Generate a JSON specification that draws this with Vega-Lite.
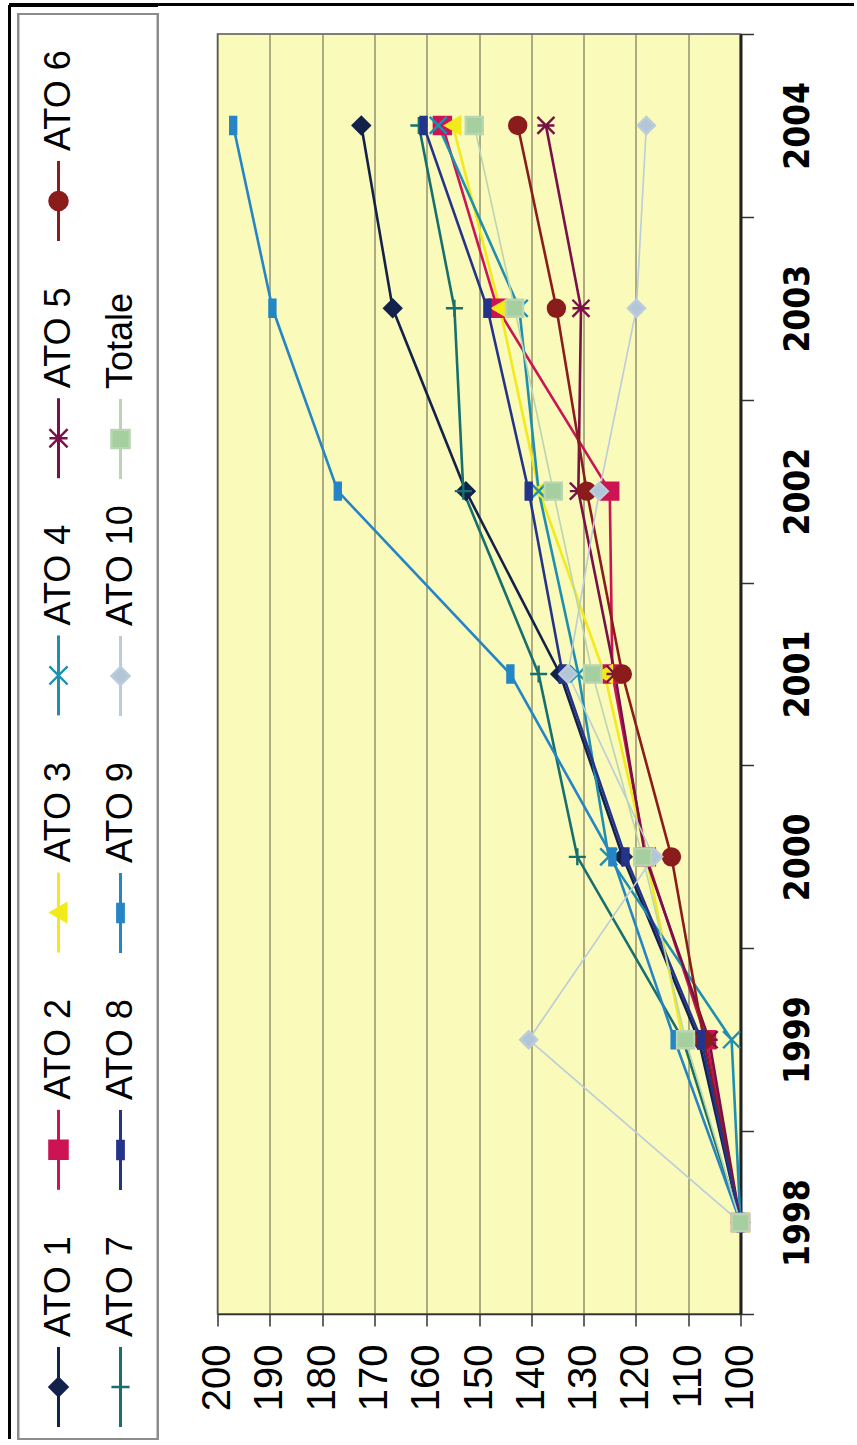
{
  "$schema": "https://vega.github.io/schema/vega-lite/v6.json",
  "padding": {"left": 7.5, "top": 2, "right": 0, "bottom": 0},
  "background": "white",
  "config": {"font": "Liberation Sans", "view": {"stroke": null}},
  "datasets": {
    "ato": [
      {"series": "ATO 1", "year": 1998, "value": 100}, {"series": "ATO 1", "year": 1999, "value": 108}, {"series": "ATO 1", "year": 2000, "value": 122.5}, {"series": "ATO 1", "year": 2001, "value": 134.5}, {"series": "ATO 1", "year": 2002, "value": 152.5}, {"series": "ATO 1", "year": 2003, "value": 166.5}, {"series": "ATO 1", "year": 2004, "value": 172.5},
      {"series": "ATO 2", "year": 1998, "value": 100}, {"series": "ATO 2", "year": 1999, "value": 106.5}, {"series": "ATO 2", "year": 2000, "value": 118}, {"series": "ATO 2", "year": 2001, "value": 124.5}, {"series": "ATO 2", "year": 2002, "value": 125}, {"series": "ATO 2", "year": 2003, "value": 146.5}, {"series": "ATO 2", "year": 2004, "value": 157},
      {"series": "ATO 3", "year": 1998, "value": 100}, {"series": "ATO 3", "year": 1999, "value": 111}, {"series": "ATO 3", "year": 2000, "value": 118}, {"series": "ATO 3", "year": 2001, "value": 126}, {"series": "ATO 3", "year": 2002, "value": 138.5}, {"series": "ATO 3", "year": 2003, "value": 146}, {"series": "ATO 3", "year": 2004, "value": 155},
      {"series": "ATO 4", "year": 1998, "value": 100}, {"series": "ATO 4", "year": 1999, "value": 101.7}, {"series": "ATO 4", "year": 2000, "value": 125.2}, {"series": "ATO 4", "year": 2001, "value": 131}, {"series": "ATO 4", "year": 2002, "value": 138.6}, {"series": "ATO 4", "year": 2003, "value": 142.3}, {"series": "ATO 4", "year": 2004, "value": 157.8},
      {"series": "ATO 5", "year": 1998, "value": 100}, {"series": "ATO 5", "year": 1999, "value": 106}, {"series": "ATO 5", "year": 2000, "value": 118.2}, {"series": "ATO 5", "year": 2001, "value": 124}, {"series": "ATO 5", "year": 2002, "value": 131}, {"series": "ATO 5", "year": 2003, "value": 130.5}, {"series": "ATO 5", "year": 2004, "value": 137.2},
      {"series": "ATO 6", "year": 1998, "value": 100}, {"series": "ATO 6", "year": 1999, "value": 107}, {"series": "ATO 6", "year": 2000, "value": 113.2}, {"series": "ATO 6", "year": 2001, "value": 122.6}, {"series": "ATO 6", "year": 2002, "value": 129.4}, {"series": "ATO 6", "year": 2003, "value": 135.2}, {"series": "ATO 6", "year": 2004, "value": 142.6},
      {"series": "ATO 7", "year": 1998, "value": 100}, {"series": "ATO 7", "year": 1999, "value": 111}, {"series": "ATO 7", "year": 2000, "value": 131.2}, {"series": "ATO 7", "year": 2001, "value": 138.6}, {"series": "ATO 7", "year": 2002, "value": 153}, {"series": "ATO 7", "year": 2003, "value": 154.7}, {"series": "ATO 7", "year": 2004, "value": 161.5},
      {"series": "ATO 8", "year": 1998, "value": 100}, {"series": "ATO 8", "year": 1999, "value": 107.5}, {"series": "ATO 8", "year": 2000, "value": 122}, {"series": "ATO 8", "year": 2001, "value": 134}, {"series": "ATO 8", "year": 2002, "value": 140.5}, {"series": "ATO 8", "year": 2003, "value": 148.4}, {"series": "ATO 8", "year": 2004, "value": 160.6},
      {"series": "ATO 9", "year": 1998, "value": 100}, {"series": "ATO 9", "year": 1999, "value": 112.6}, {"series": "ATO 9", "year": 2000, "value": 124.5}, {"series": "ATO 9", "year": 2001, "value": 144}, {"series": "ATO 9", "year": 2002, "value": 177}, {"series": "ATO 9", "year": 2003, "value": 189.5}, {"series": "ATO 9", "year": 2004, "value": 197},
      {"series": "ATO 10", "year": 1998, "value": 100}, {"series": "ATO 10", "year": 1999, "value": 140.5}, {"series": "ATO 10", "year": 2000, "value": 116.6}, {"series": "ATO 10", "year": 2001, "value": 133}, {"series": "ATO 10", "year": 2002, "value": 127}, {"series": "ATO 10", "year": 2003, "value": 119.9}, {"series": "ATO 10", "year": 2004, "value": 118},
      {"series": "Totale", "year": 1998, "value": 100}, {"series": "Totale", "year": 1999, "value": 110.5}, {"series": "Totale", "year": 2000, "value": 118.7}, {"series": "Totale", "year": 2001, "value": 128.3}, {"series": "Totale", "year": 2002, "value": 135.8}, {"series": "Totale", "year": 2003, "value": 143.2}, {"series": "Totale", "year": 2004, "value": 150.9}
    ]
  },
  "align": "none",
  "spacing": -6,
  "hconcat": [
    {
      "width": 139,
      "height": 1280,
      "data": {"name": "ato"},
      "transform": [{"filter": "datum.year == 1998"}],
      "resolve": {"scale": {"y": "independent"}},
      "layer": [
        {
          "mark": {"type": "rect", "fill": "white", "stroke": "#8c8c8c", "strokeWidth": 2},
          "encoding": {
            "x": {"datum": 0, "type": "quantitative", "scale": {"domain": [0, 139]}, "axis": null},
            "x2": {"datum": 139},
            "y": {"datum": 0, "type": "quantitative", "scale": {"domain": [0, 1425], "range": [-20, 1405]}, "axis": null},
            "y2": {"datum": 1425}
          }
        },
        {
          "mark": {"type": "rule", "color": "black", "strokeWidth": 3},
          "encoding": {
            "x": {"datum": -9, "type": "quantitative", "scale": {"domain": [0, 139]}, "axis": null},
            "x2": {"datum": 139},
            "y": {"datum": -9, "type": "quantitative", "scale": {"domain": [0, 1425], "range": [-20, 1405]}, "axis": null}
          }
        },
        {
          "mark": {"type": "rule", "color": "black", "strokeWidth": 3},
          "encoding": {
            "x": {"datum": -9, "type": "quantitative", "scale": {"domain": [0, 139]}, "axis": null},
            "y": {"datum": -9, "type": "quantitative", "scale": {"domain": [0, 1425], "range": [-20, 1405]}, "axis": null},
            "y2": {"datum": 1425}
          }
        },
        {
          "transform": [{"filter": {"field": "series", "oneOf": ["ATO 1", "ATO 2", "ATO 3", "ATO 4", "ATO 5", "ATO 6"]}}],
          "encoding": {
            "x": {"datum": 40, "type": "quantitative", "scale": {"domain": [0, 139]}, "axis": null},
            "y": {"field": "series", "type": "nominal", "scale": {"type": "point", "domain": ["ATO 6", "ATO 5", "ATO 4", "ATO 3", "ATO 2", "ATO 1"], "range": [167, 1353], "padding": 0}, "axis": null}
          },
          "layer": [
            {
              "mark": {"type": "point", "shape": "M0,-1L0,1", "size": 6400, "strokeWidth": 3, "filled": false, "opacity": 1},
              "encoding": {"stroke": {"field": "series", "type": "nominal", "scale": {"domain": ["ATO 1", "ATO 2", "ATO 3", "ATO 4", "ATO 5", "ATO 6", "ATO 7", "ATO 8", "ATO 9", "ATO 10", "Totale"], "range": ["#13224A", "#CC1455", "#F2EA1A", "#1E8FB0", "#7A1048", "#8A1C1C", "#17706E", "#24348A", "#2585C5", "#BBCCDA", "#B9D5B2"]}, "legend": null}}
            },
            {
              "mark": {"type": "point", "filled": true, "size": 330, "strokeWidth": 2.4, "opacity": 1},
              "encoding": {
                "shape": {"field": "series", "type": "nominal", "scale": {"domain": ["ATO 1", "ATO 2", "ATO 3", "ATO 4", "ATO 5", "ATO 6", "ATO 7", "ATO 8", "ATO 9", "ATO 10", "Totale"], "range": ["diamond", "square", "triangle-left", "M-1,-1L1,1M-1,1L1,-1", "M-1,-1L1,1M-1,1L1,-1M-1,0L1,0", "circle", "M-1,0L1,0M0,-1L0,1", "M-0.35,-1L0.35,-1L0.35,1L-0.35,1Z", "M-0.35,-1L0.35,-1L0.35,1L-0.35,1Z", "diamond", "square"]}, "legend": null},
                "fill": {"field": "series", "type": "nominal", "scale": {"domain": ["ATO 1", "ATO 2", "ATO 3", "ATO 4", "ATO 5", "ATO 6", "ATO 7", "ATO 8", "ATO 9", "ATO 10", "Totale"], "range": ["#13224A", "#CC1455", "#F2EA1A", "#1E8FB0", "#7A1048", "#8A1C1C", "#17706E", "#24348A", "#2585C5", "#B3C6D8", "#A5CF9E"]}, "legend": null},
                "stroke": {"field": "series", "type": "nominal", "scale": {"domain": ["ATO 1", "ATO 2", "ATO 3", "ATO 4", "ATO 5", "ATO 6", "ATO 7", "ATO 8", "ATO 9", "ATO 10", "Totale"], "range": ["#13224A", "#CC1455", "#F2EA1A", "#1E8FB0", "#7A1048", "#8A1C1C", "#17706E", "#24348A", "#2585C5", "#BBCCDA", "#B9D5B2"]}, "legend": null}
              }
            },
            {
              "mark": {"type": "text", "angle": 270, "align": "left", "baseline": "middle", "yOffset": -50, "fontSize": 36, "font": "Liberation Sans", "color": "black"},
              "encoding": {"text": {"field": "series", "type": "nominal"}}
            }
          ]
        },
        {
          "transform": [{"filter": {"field": "series", "oneOf": ["ATO 7", "ATO 8", "ATO 9", "ATO 10", "Totale"]}}],
          "encoding": {
            "x": {"datum": 102, "type": "quantitative", "scale": {"domain": [0, 139]}, "axis": null},
            "y": {"field": "series", "type": "nominal", "scale": {"type": "point", "domain": ["Totale", "ATO 10", "ATO 9", "ATO 8", "ATO 7"], "range": [405, 1353], "padding": 0}, "axis": null}
          },
          "layer": [
            {
              "mark": {"type": "point", "shape": "M0,-1L0,1", "size": 6400, "strokeWidth": 3, "filled": false, "opacity": 1},
              "encoding": {"stroke": {"field": "series", "type": "nominal", "scale": {"domain": ["ATO 1", "ATO 2", "ATO 3", "ATO 4", "ATO 5", "ATO 6", "ATO 7", "ATO 8", "ATO 9", "ATO 10", "Totale"], "range": ["#13224A", "#CC1455", "#F2EA1A", "#1E8FB0", "#7A1048", "#8A1C1C", "#17706E", "#24348A", "#2585C5", "#BBCCDA", "#B9D5B2"]}, "legend": null}}
            },
            {
              "mark": {"type": "point", "filled": true, "size": 330, "strokeWidth": 2.4, "opacity": 1},
              "encoding": {
                "shape": {"field": "series", "type": "nominal", "scale": {"domain": ["ATO 1", "ATO 2", "ATO 3", "ATO 4", "ATO 5", "ATO 6", "ATO 7", "ATO 8", "ATO 9", "ATO 10", "Totale"], "range": ["diamond", "square", "triangle-left", "M-1,-1L1,1M-1,1L1,-1", "M-1,-1L1,1M-1,1L1,-1M-1,0L1,0", "circle", "M-1,0L1,0M0,-1L0,1", "M-0.35,-1L0.35,-1L0.35,1L-0.35,1Z", "M-0.35,-1L0.35,-1L0.35,1L-0.35,1Z", "diamond", "square"]}, "legend": null},
                "fill": {"field": "series", "type": "nominal", "scale": {"domain": ["ATO 1", "ATO 2", "ATO 3", "ATO 4", "ATO 5", "ATO 6", "ATO 7", "ATO 8", "ATO 9", "ATO 10", "Totale"], "range": ["#13224A", "#CC1455", "#F2EA1A", "#1E8FB0", "#7A1048", "#8A1C1C", "#17706E", "#24348A", "#2585C5", "#B3C6D8", "#A5CF9E"]}, "legend": null},
                "stroke": {"field": "series", "type": "nominal", "scale": {"domain": ["ATO 1", "ATO 2", "ATO 3", "ATO 4", "ATO 5", "ATO 6", "ATO 7", "ATO 8", "ATO 9", "ATO 10", "Totale"], "range": ["#13224A", "#CC1455", "#F2EA1A", "#1E8FB0", "#7A1048", "#8A1C1C", "#17706E", "#24348A", "#2585C5", "#BBCCDA", "#B9D5B2"]}, "legend": null}
              }
            },
            {
              "mark": {"type": "text", "angle": 270, "align": "left", "baseline": "middle", "yOffset": -50, "fontSize": 36, "font": "Liberation Sans", "color": "black"},
              "encoding": {"text": {"field": "series", "type": "nominal"}}
            }
          ]
        }
      ]
    },
    {
      "width": 523,
      "height": 1280,
      "view": {"fill": "#FAFABA", "stroke": "#555555", "strokeWidth": 1.5},
      "data": {"name": "ato"},
      "encoding": {
        "x": {
          "field": "value", "type": "quantitative",
          "scale": {"domain": [100, 200], "reverse": true, "nice": false, "zero": false},
          "axis": {"orient": "bottom", "values": [100, 110, 120, 130, 140, 150, 160, 170, 180, 190, 200], "labelAngle": 270, "labelAlign": "right", "labelBaseline": "middle", "labelFontSize": 40, "labelFont": "Liberation Sans", "labelColor": "black", "labelFlush": false, "labelOverlap": false, "labelPadding": 18, "tickSize": 12, "tickColor": "#333333", "tickWidth": 1.5, "grid": true, "gridColor": "#5e5e4a", "gridWidth": 1, "domainColor": "#333333", "domainWidth": 1.5, "title": null}
        },
        "y": {
          "field": "year", "type": "ordinal",
          "scale": {"type": "band", "domain": [2004, 2003, 2002, 2001, 2000, 1999, 1998], "paddingInner": 0, "paddingOuter": 0},
          "axis": {"orient": "right", "labelAngle": 270, "labelAlign": "center", "labelBaseline": "top", "tickBand": "extent", "tickSize": 13, "tickColor": "#333333", "tickWidth": 1.5, "domainColor": "#222222", "domainWidth": 3, "grid": false, "labelPadding": 27, "labelFontSize": 35, "labelFont": "Liberation Sans Narrow, DejaVu Sans Condensed, sans-serif", "labelFontWeight": "bold", "labelColor": "black", "title": null}
        }
      },
      "layer": [
        {
          "mark": {"type": "rule", "color": "black", "strokeWidth": 3, "yOffset": -29.5},
          "encoding": {
            "x": {"datum": 211.66, "type": "quantitative"},
            "x2": {"datum": 78.4},
            "y": {"datum": 2004, "type": "ordinal", "bandPosition": 0}
          }
        },
        {
          "transform": [{"filter": {"field": "series", "oneOf": ["ATO 1", "ATO 2", "ATO 3", "ATO 4", "ATO 5", "ATO 6", "ATO 7", "ATO 8", "ATO 9"]}}],
          "mark": {"type": "line", "strokeWidth": 2.6},
          "encoding": {
            "stroke": {"field": "series", "type": "nominal", "scale": {"domain": ["ATO 1", "ATO 2", "ATO 3", "ATO 4", "ATO 5", "ATO 6", "ATO 7", "ATO 8", "ATO 9", "ATO 10", "Totale"], "range": ["#13224A", "#CC1455", "#F2EA1A", "#1E8FB0", "#7A1048", "#8A1C1C", "#17706E", "#24348A", "#2585C5", "#BBCCDA", "#B9D5B2"]}, "legend": null},
            "order": {"field": "year", "type": "ordinal"}
          }
        },
        {
          "transform": [{"filter": {"field": "series", "oneOf": ["ATO 10", "Totale"]}}],
          "mark": {"type": "line", "strokeWidth": 1.6},
          "encoding": {
            "stroke": {"field": "series", "type": "nominal", "scale": {"domain": ["ATO 1", "ATO 2", "ATO 3", "ATO 4", "ATO 5", "ATO 6", "ATO 7", "ATO 8", "ATO 9", "ATO 10", "Totale"], "range": ["#13224A", "#CC1455", "#F2EA1A", "#1E8FB0", "#7A1048", "#8A1C1C", "#17706E", "#24348A", "#2585C5", "#BBCCDA", "#B9D5B2"]}, "legend": null},
            "order": {"field": "year", "type": "ordinal"}
          }
        },
        {
          "mark": {"type": "point", "filled": true, "size": 290, "strokeWidth": 2.4, "opacity": 1},
          "encoding": {
            "shape": {"field": "series", "type": "nominal", "scale": {"domain": ["ATO 1", "ATO 2", "ATO 3", "ATO 4", "ATO 5", "ATO 6", "ATO 7", "ATO 8", "ATO 9", "ATO 10", "Totale"], "range": ["diamond", "square", "triangle-left", "M-1,-1L1,1M-1,1L1,-1", "M-1,-1L1,1M-1,1L1,-1M-1,0L1,0", "circle", "M-1,0L1,0M0,-1L0,1", "M-0.35,-1L0.35,-1L0.35,1L-0.35,1Z", "M-0.35,-1L0.35,-1L0.35,1L-0.35,1Z", "diamond", "square"]}, "legend": null},
            "fill": {"field": "series", "type": "nominal", "scale": {"domain": ["ATO 1", "ATO 2", "ATO 3", "ATO 4", "ATO 5", "ATO 6", "ATO 7", "ATO 8", "ATO 9", "ATO 10", "Totale"], "range": ["#13224A", "#CC1455", "#F2EA1A", "#1E8FB0", "#7A1048", "#8A1C1C", "#17706E", "#24348A", "#2585C5", "#B3C6D8", "#A5CF9E"]}, "legend": null},
            "stroke": {"field": "series", "type": "nominal", "scale": {"domain": ["ATO 1", "ATO 2", "ATO 3", "ATO 4", "ATO 5", "ATO 6", "ATO 7", "ATO 8", "ATO 9", "ATO 10", "Totale"], "range": ["#13224A", "#CC1455", "#F2EA1A", "#1E8FB0", "#7A1048", "#8A1C1C", "#17706E", "#24348A", "#2585C5", "#BBCCDA", "#B9D5B2"]}, "legend": null}
          }
        }
      ]
    }
  ]
}
